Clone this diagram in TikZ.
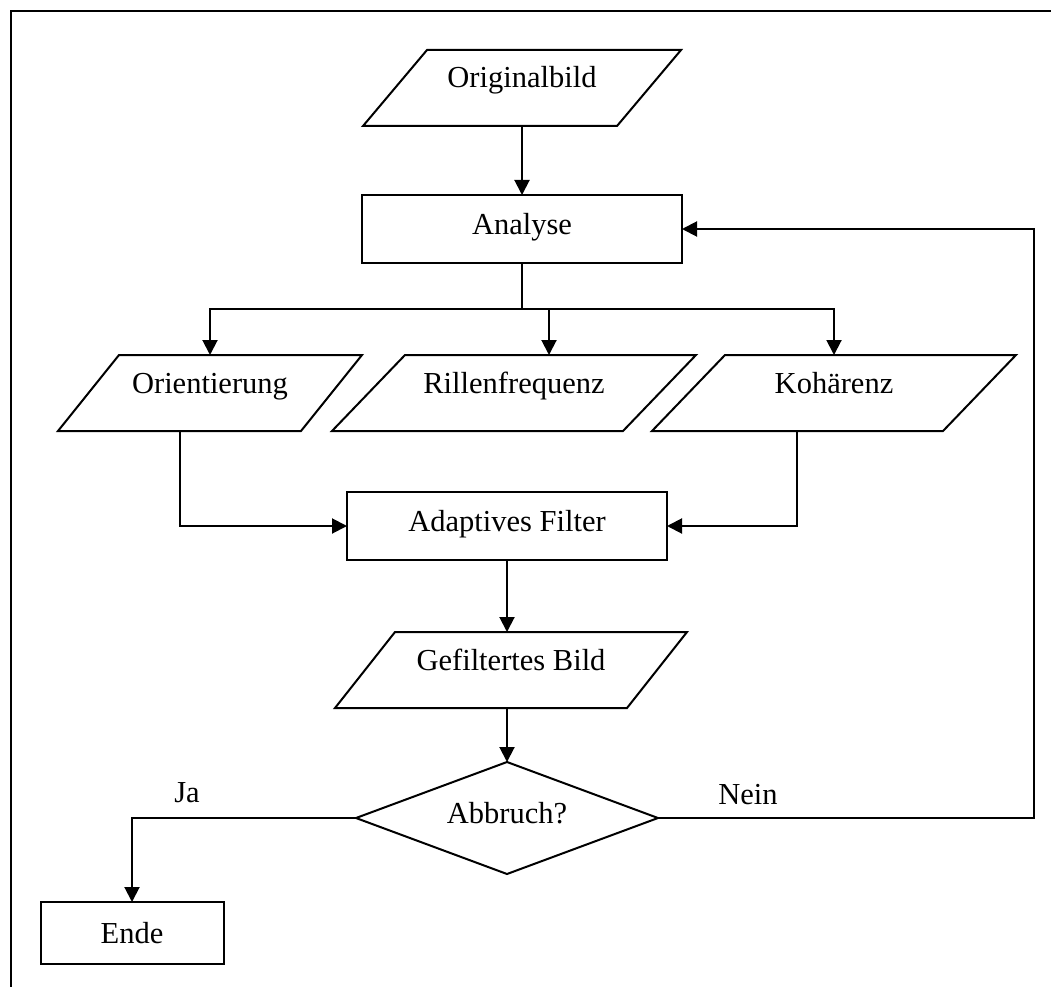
\documentclass[tikz,border=0pt]{standalone}
\usepackage{fontspec}
\setmainfont{Liberation Serif}
\usetikzlibrary{
    arrows.meta,
    shapes.geometric,
    calc,
    positioning
}
\newcommand{\iobox}[2]{
    \draw ($(#1.north west) + (0.5*#2, 0)$) -- ($(#1.north east) + (0.5*#2, 0)$) -- ($(#1.south east) + (-0.5*#2, 0)$) -- ($(#1.south west) + (-0.5*#2, 0)$) -- cycle;
}

\begin{document}
\begin{tikzpicture}[x=1pt, y=-1pt, line width=2pt, font=\fontsize{30.5}{36}\selectfont,
    proc/.style={draw, rectangle, inner sep=0pt, outer sep=0pt, text height=20pt, text depth=10pt},
    io/.style={rectangle, inner sep=0pt, outer sep=0pt, minimum height=76pt, text height=9pt, text depth=9pt},
    arr/.style={-{Triangle[length=15pt, width=15pt]}}]
    \useasboundingbox (0, 0) rectangle (1051, 987);
    \draw (1051, 11) -- (11, 11) -- (11, 987);
    \node[io, minimum width=254pt] (orig) at (522, 88) {Originalbild};
    \iobox{orig}{64}
    \node[proc, minimum width=320pt, minimum height=68pt] (analyse) at (522, 229) {Analyse};
    \node[io, minimum width=243pt] (orient) at (210, 393) {Orientierung};
    \iobox{orient}{61}
    \node[io, minimum width=291pt] (rillen) at (514, 393) {Rillenfrequenz};
    \iobox{rillen}{73}
    \node[io, minimum width=291pt] (koh) at (834, 393) {Kohärenz};
    \iobox{koh}{73}
    \node[proc, minimum width=320pt, minimum height=68pt] (adapt) at (507, 526) {Adaptives Filter};
    \node[io, minimum width=292pt] (gefilt) at (511, 670) {Gefiltertes Bild};
    \iobox{gefilt}{60}
    \node[draw, diamond, aspect=2.7, minimum width=302pt, minimum height=112pt, inner sep=0pt, outer sep=0pt, text height=20pt, text depth=10pt] (abbruch) at (507, 818) {Abbruch?};
    \node[draw, rectangle, inner sep=0pt, outer sep=0pt, minimum width=183pt, minimum height=62pt] (ende) at (132, 933) {Ende};
    \node (ja) at (187, 793) {Ja};
    \node (nein) at (748, 795) {Nein};
    \coordinate (split) at (522, 309);
    \coordinate (back) at (1034, 818);
    \draw[arr] (orig.south) -- (analyse.north);
    \draw (analyse.south) -- (split);
    \draw[arr] (split) -| (orient.north);
    \draw[arr] (split) -| ($(rillen.north) + (35, 0)$);
    \draw[arr] (split) -| (koh.north);
    \draw[arr] ($(orient.south) + (-30, 0)$) |- (adapt.west);
    \draw[arr] ($(koh.south) + (-37, 0)$) |- (adapt.east);
    \draw[arr] (adapt.south) -- (adapt.south |- gefilt.north);
    \draw[arr] (abbruch.north |- gefilt.south) -- (abbruch.north);
    \draw[arr] (abbruch.east) -- (back) |- (analyse.east);
    \draw[arr] (abbruch.west) -| (ende.north);
\end{tikzpicture}
\end{document}
